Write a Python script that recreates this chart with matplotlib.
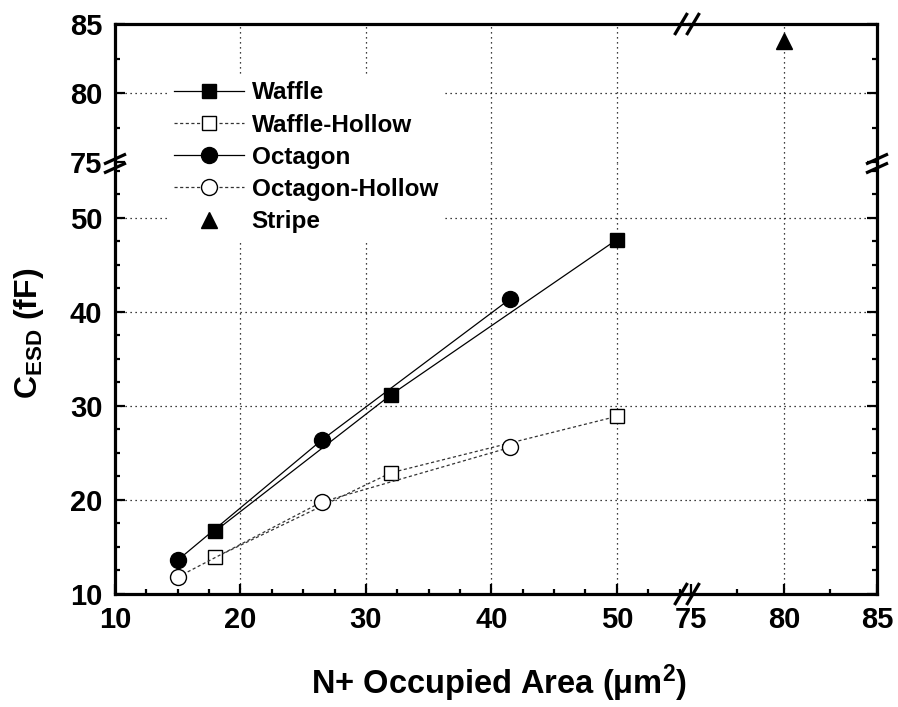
import matplotlib
matplotlib.use("Agg")
import matplotlib.pyplot as plt
import numpy as np
from matplotlib.lines import Line2D
from matplotlib.ticker import MultipleLocator, FixedLocator

##############
 # Data
##############

waffle_x = [18, 32, 50]
waffle_y = [16.7, 31.2, 47.7]
waffle_hollow_x = [18, 32, 50]
waffle_hollow_y = [13.9, 22.9, 28.9]
octagon_x = [15, 26.5, 41.5]
octagon_y = [13.6, 26.4, 41.4]
octagon_hollow_x = [15, 26.5, 41.5]
octagon_hollow_y = [11.8, 19.8, 25.6]
stripe_x = [80]
stripe_y = [83.8]

labels = ["Waffle", "Waffle-Hollow", "Octagon", "Octagon-Hollow", "Stripe"]

##############
 # Style
##############

plt.rcParams['font.family'] = ['Liberation Sans', 'DejaVu Sans']
plt.rcParams['font.weight'] = 'bold'
plt.rcParams['mathtext.fontset'] = 'custom'
plt.rcParams['mathtext.rm'] = 'Liberation Sans:bold'
plt.rcParams['mathtext.it'] = 'Liberation Sans:bold'
plt.rcParams['mathtext.bf'] = 'Liberation Sans:bold'

W, H = 898, 707
fig = plt.figure(figsize=(W / 100, H / 100), dpi=100)


def px_axes(l, t, r, b):
    return fig.add_axes([l / W, 1 - b / H, (r - l) / W, (b - t) / H])


# panel edges in pixels
L, XB, R = 115, 689, 877
T, YB, B = 24, 163, 594

ax_bl = px_axes(L, YB, XB, B)
ax_br = px_axes(XB, YB, R, B)
ax_tl = px_axes(L, T, XB, YB)
ax_tr = px_axes(XB, T, R, YB)
axes = [ax_bl, ax_br, ax_tl, ax_tr]

xlim_left = (10, 55.75)
xlim_right = (74.9, 85)
ylim_bot = (10, 55.85)
ylim_top = (74.93, 85)

ax_bl.set_xlim(xlim_left); ax_bl.set_ylim(ylim_bot)
ax_br.set_xlim(xlim_right); ax_br.set_ylim(ylim_bot)
ax_tl.set_xlim(xlim_left); ax_tl.set_ylim(ylim_top)
ax_tr.set_xlim(xlim_right); ax_tr.set_ylim(ylim_top)

##############
 # Grid (interior only)
##############

grid_kw = dict(color='black', linestyle=(0, (1, 3)), linewidth=0.9, zorder=1)
for ax in [ax_bl, ax_tl]:
    for gx in [20, 30, 40, 50]:
        ax.axvline(gx, **grid_kw)
for ax in [ax_br, ax_tr]:
    ax.axvline(80, **grid_kw)
for ax in [ax_bl, ax_br]:
    for gy in [20, 30, 40, 50]:
        ax.axhline(gy, **grid_kw)
for ax in [ax_tl, ax_tr]:
    ax.axhline(80, **grid_kw)

##############
 # Series
##############

handles = []
for ax in axes:
    h1, = ax.plot(waffle_x, waffle_y, '-', color='black', lw=0.9, marker='s',
                  ms=10.5, mfc='black', mec='black', zorder=3)
    h2, = ax.plot(waffle_hollow_x, waffle_hollow_y, color='#333333', lw=0.9,
                  linestyle=(0, (2.5, 2)), marker='s', ms=10.5, mfc='white',
                  mec='black', mew=1.0, zorder=3)
    h3, = ax.plot(octagon_x, octagon_y, '-', color='black', lw=0.9, marker='o',
                  ms=11.5, mfc='black', mec='black', zorder=3)
    h4, = ax.plot(octagon_hollow_x, octagon_hollow_y, color='#333333', lw=0.9,
                  linestyle=(0, (2.5, 2)), marker='o', ms=11.5, mfc='white',
                  mec='black', mew=1.0, zorder=3)
    h5, = ax.plot(stripe_x, stripe_y, linestyle='none', marker='^', ms=12,
                  color='black', zorder=3)
    handles = [h1, h2, h3, h4, h5]

##############
 # Spines & ticks
##############

for ax in axes:
    for s in ax.spines.values():
        s.set_linewidth(2.3)
        s.set_visible(False)
    ax.tick_params(which='both', direction='in', labelsize=21, pad=9,
                   bottom=False, top=False, left=False, right=False,
                   labelbottom=False, labelleft=False)
    ax.tick_params(which='major', length=7, width=1.6)
    ax.tick_params(which='minor', length=3.5, width=1.6)
    ax.patch.set_alpha(0)

ax_bl.spines['left'].set_visible(True); ax_bl.spines['bottom'].set_visible(True)
ax_br.spines['right'].set_visible(True); ax_br.spines['bottom'].set_visible(True)
ax_tl.spines['left'].set_visible(True); ax_tl.spines['top'].set_visible(True)
ax_tr.spines['right'].set_visible(True); ax_tr.spines['top'].set_visible(True)

ax_bl.xaxis.set_major_locator(MultipleLocator(10))
ax_bl.xaxis.set_minor_locator(MultipleLocator(2.5))
ax_bl.yaxis.set_major_locator(MultipleLocator(10))
ax_bl.yaxis.set_minor_locator(MultipleLocator(2.5))
ax_bl.tick_params(which='both', bottom=True, left=True, labelbottom=True, labelleft=True)

ax_br.xaxis.set_major_locator(FixedLocator([75, 80, 85]))
ax_br.xaxis.set_minor_locator(FixedLocator([77.5, 82.5]))
ax_br.yaxis.set_major_locator(MultipleLocator(10))
ax_br.yaxis.set_minor_locator(MultipleLocator(2.5))
ax_br.tick_params(which='both', bottom=True, right=True, labelbottom=True)

ax_tl.yaxis.set_major_locator(FixedLocator([75, 80, 85]))
ax_tl.yaxis.set_minor_locator(FixedLocator([77.5, 82.5]))
ax_tl.tick_params(which='both', left=True, labelleft=True)

ax_tr.yaxis.set_major_locator(FixedLocator([75, 80, 85]))
ax_tr.yaxis.set_minor_locator(FixedLocator([77.5, 82.5]))
ax_tr.tick_params(which='both', right=True)

for ax in axes:
    ax.xaxis.set_major_formatter(plt.FuncFormatter(lambda v, p: f"{v:g}"))
    ax.yaxis.set_major_formatter(plt.FuncFormatter(lambda v, p: f"{v:g}"))

##############
 # Break marks
##############


def slash(cx, cy, dx, dy):
    fig.add_artist(Line2D([(cx - dx) / W, (cx + dx) / W],
                          [1 - (cy + dy) / H, 1 - (cy - dy) / H],
                          transform=fig.transFigure, color='black', lw=2.3,
                          solid_capstyle='butt', zorder=10))


for cy in [T, B]:
    slash(681, cy, 6.5, 11)
    slash(693, cy, 6.5, 11)
for cx in [L, R]:
    slash(cx, 159, 11, 5)
    slash(cx, 168, 11, 5)

##############
 # Labels & legend
##############

fig.text(29 / W, 1 - 333 / H, 'C$_\\mathrm{ESD}$ (fF)', rotation=90,
         ha='center', va='center', fontsize=23, fontweight='bold')
fig.text(499 / W, 1 - 683 / H, 'N+ Occupied Area (\u03bcm$^\\mathrm{2}$)',
         ha='center', va='center', fontsize=23.5, fontweight='bold')

leg = fig.legend(handles, labels, loc='upper left',
                 bbox_to_anchor=(167 / W, 1 - 74 / H),
                 bbox_transform=fig.transFigure, frameon=True,
                 fontsize=17.5, handlelength=2.85, handletextpad=0.33,
                 labelspacing=0.38, borderpad=0.3, borderaxespad=0)
leg.get_frame().set_facecolor('white')
leg.get_frame().set_edgecolor('none')
leg.get_frame().set_alpha(1)
leg.set_zorder(5)

fig.savefig('out.png', dpi=100)
